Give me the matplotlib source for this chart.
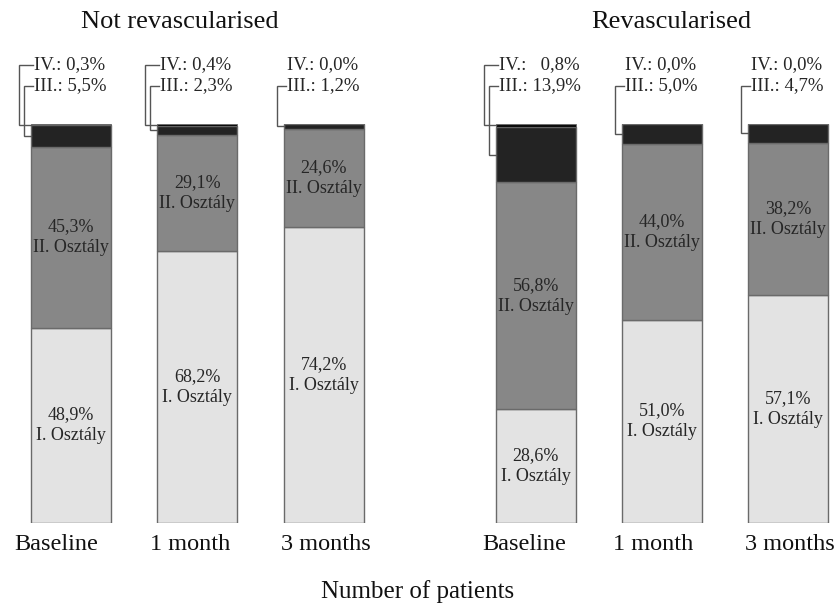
import matplotlib
matplotlib.use("Agg")
import matplotlib.pyplot as plt
import matplotlib.transforms as mtransforms
import numpy as np

# ---- data ----
groups = ["Not revascularised", "Revascularised"]
timepoints = ["Baseline", "1 month", "3 months"]
class_i = [48.9, 68.2, 74.2, 28.6, 51.0, 57.1]
class_ii = [45.3, 29.1, 24.6, 56.8, 44.0, 38.2]
class_iii = [5.5, 2.3, 1.2, 13.9, 5.0, 4.7]
class_iv = [0.3, 0.4, 0.0, 0.8, 0.0, 0.0]
class_names = ["I. Osztály", "II. Osztály"]
xlabel = "Number of patients"

plt.rcParams['font.family'] = ['Liberation Serif', 'DejaVu Serif']

W, H = 837, 607
fig = plt.figure(figsize=(W / 100, H / 100), dpi=100)

unit = 126.3          # pixels per bar slot
first_center = 71     # pixel centre of first bar
gap_units = 3.68      # offset of second group
bar_w = 0.633
y_bottom_px, y_top_px = 523, 124
tick_shift_px = [-15, -7, 2, -12, -9, 1]   # horizontal nudge of each tick label

positions = np.r_[np.arange(3), np.arange(3) + gap_units]
ax = fig.add_axes([0, (H - y_bottom_px) / H, 1, (y_bottom_px - y_top_px) / H])
ax.set_xlim(-first_center / unit, (W - first_center) / unit)
ax.set_ylim(0, 100)

px_x = 1 / unit
px_y = 100 / (y_bottom_px - y_top_px)

colors = ["#e3e3e3", "#878787", "#232323", "#0c0c0c"]
edge = "#6a6a6a"
txt_col = "#262626"

i_arr = np.array(class_i)
ii_arr = np.array(class_ii)
iii_arr = np.array(class_iii)
iv_arr = np.array(class_iv)

ax.bar(positions, i_arr, width=bar_w, color=colors[0], edgecolor=edge, linewidth=1)
ax.bar(positions, ii_arr, width=bar_w, bottom=i_arr, color=colors[1], edgecolor=edge, linewidth=1)
ax.bar(positions, iii_arr, width=bar_w, bottom=i_arr + ii_arr, color=colors[2], edgecolor=edge, linewidth=1)
ax.bar(positions, iv_arr, width=bar_w, bottom=i_arr + ii_arr + iii_arr, color=colors[3], edgecolor=edge, linewidth=0.6)


def fmt(v):
    return f"{v:.1f}".replace(".", ",") + "%"


lab_fs = 13
call_fs = 13.5
for k, x in enumerate(positions):
    # in-bar labels
    ax.text(x, i_arr[k] / 2, f"{fmt(i_arr[k])}\n{class_names[0]}", ha="center", va="center",
            fontsize=lab_fs, color=txt_col, linespacing=1.3)
    ax.text(x, i_arr[k] + ii_arr[k] / 2, f"{fmt(ii_arr[k])}\n{class_names[1]}", ha="center",
            va="center", fontsize=lab_fs, color=txt_col, linespacing=1.3)

    # callouts above bars
    left = x - bar_w / 2
    tx = left + 3 * px_x
    y_iv = (y_bottom_px - 65) * px_y
    y_iii = (y_bottom_px - 86) * px_y
    iv_s, iii_s = fmt(iv_arr[k]), fmt(iii_arr[k])
    pad = "  " * max(0, len(iii_s) - len(iv_s))
    ax.text(tx, y_iv, f"IV.: {pad}{iv_s}", ha="left", va="center", fontsize=call_fs,
            color=txt_col, clip_on=False)
    ax.text(tx, y_iii, f"III.: {iii_s}", ha="left", va="center", fontsize=call_fs,
            color=txt_col, clip_on=False)
    top = i_arr[k] + ii_arr[k] + iii_arr[k] + iv_arr[k]
    if iv_arr[k] > 0:
        yv = top - iv_arr[k] / 2
        bx = left - 12 * px_x
        ax.plot([tx - 1 * px_x, bx, bx, left], [y_iv, y_iv, yv, yv], color="#555555",
                lw=1.0, clip_on=False, solid_joinstyle="miter")
    if iii_arr[k] > 0:
        yv = top - iv_arr[k] - iii_arr[k] / 2
        bx = left - 7 * px_x
        ax.plot([tx - 1 * px_x, bx, bx, left], [y_iii, y_iii, yv, yv], color="#555555",
                lw=1.0, clip_on=False, solid_joinstyle="miter")

ax.set_xticks(positions)
ax.set_xticklabels(timepoints * 2, fontsize=17.5, color="#111111")
ax.tick_params(axis="x", length=0, pad=8)
for lbl, sh in zip(ax.get_xticklabels(), tick_shift_px):
    lbl.set_transform(lbl.get_transform() +
                      mtransforms.ScaledTranslation(sh / 100, 0, fig.dpi_scale_trans))
ax.set_yticks([])
for s in ax.spines.values():
    s.set_visible(False)

fig.text(180 / W, 1 - 22 / H, groups[0], ha="center", va="center", fontsize=19, color="#111111")
fig.text(671 / W, 1 - 22 / H, groups[1], ha="center", va="center", fontsize=19, color="#111111")
fig.text(418 / W, 1 - 592 / H, xlabel, ha="center", va="center", fontsize=18, color="#111111")

fig.savefig("out.png", dpi=100)
